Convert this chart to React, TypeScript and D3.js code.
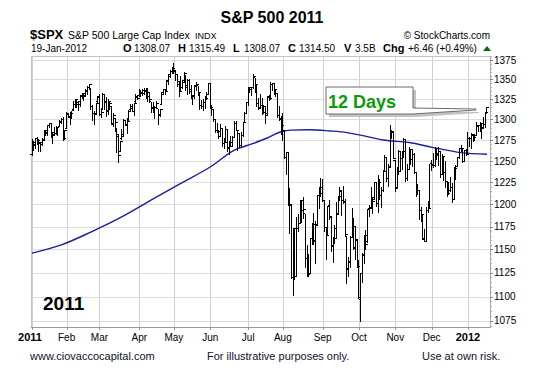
import * as d3 from 'd3';

// daily bars [open, high, low, close]
const jan11 = [
  [1257.6, 1276.2, 1257.6, 1271.9], [1273.0, 1274.1, 1262.7, 1270.2], [1268.8, 1277.6, 1265.4, 1276.6], [1276.3, 1278.2, 1270.4, 1273.9],
  [1274.4, 1276.8, 1261.7, 1271.5], [1270.8, 1271.5, 1262.2, 1269.8], [1272.6, 1277.3, 1269.6, 1274.5], [1275.7, 1286.9, 1275.7, 1286.0],
  [1285.8, 1286.7, 1280.5, 1283.8], [1282.9, 1293.2, 1281.2, 1293.2], [1293.2, 1296.1, 1290.2, 1295.0], [1294.5, 1294.6, 1278.9, 1281.9],
  [1280.9, 1283.4, 1271.3, 1280.3], [1283.6, 1291.2, 1282.1, 1283.4], [1283.3, 1291.9, 1282.5, 1290.8], [1288.2, 1291.3, 1281.1, 1291.2],
  [1292.0, 1299.7, 1292.0, 1296.6], [1297.5, 1301.6, 1295.5, 1299.5], [1299.6, 1302.7, 1275.1, 1276.3], [1276.5, 1287.2, 1276.5, 1286.1],
];
const feb11 = [
  [1289.1, 1308.9, 1289.1, 1307.6], [1305.9, 1307.6, 1302.6, 1304.0], [1302.8, 1308.6, 1294.8, 1307.1], [1307.0, 1311.0, 1301.7, 1310.9],
  [1311.9, 1322.9, 1311.9, 1319.1], [1318.8, 1324.9, 1316.0, 1324.6], [1322.5, 1324.5, 1314.9, 1320.9], [1318.1, 1322.8, 1311.7, 1321.9],
  [1318.7, 1330.8, 1316.1, 1329.2], [1328.7, 1333.0, 1326.9, 1332.3], [1330.4, 1330.4, 1324.6, 1328.0], [1329.5, 1337.6, 1329.5, 1336.3],
  [1334.4, 1341.5, 1331.0, 1340.4], [1340.4, 1344.1, 1338.1, 1343.0], [1338.9, 1338.9, 1312.3, 1315.4], [1315.4, 1317.9, 1299.6, 1307.4],
  [1307.1, 1310.9, 1294.3, 1306.1], [1307.3, 1320.6, 1307.3, 1319.9], [1321.6, 1329.4, 1320.6, 1327.2],
];
const mar11 = [
  [1328.6, 1332.1, 1306.1, 1306.3], [1305.5, 1314.2, 1302.6, 1308.4], [1312.4, 1332.3, 1312.4, 1331.0], [1330.7, 1331.1, 1312.6, 1321.2],
  [1322.7, 1327.7, 1304.0, 1310.1], [1311.1, 1325.7, 1306.9, 1321.8], [1319.9, 1323.2, 1312.3, 1320.0], [1315.7, 1315.7, 1294.2, 1295.1],
  [1293.4, 1308.4, 1292.0, 1304.3], [1301.2, 1301.2, 1286.4, 1296.4], [1288.5, 1288.5, 1261.1, 1281.9], [1279.5, 1280.9, 1249.1, 1256.9],
  [1261.6, 1274.0, 1261.6, 1273.7], [1276.7, 1288.9, 1276.2, 1279.2], [1281.7, 1300.6, 1281.7, 1298.4], [1298.3, 1299.4, 1292.7, 1293.8],
  [1292.2, 1300.5, 1284.1, 1297.5], [1300.6, 1311.3, 1297.7, 1309.7], [1311.8, 1319.2, 1310.2, 1313.8], [1315.5, 1319.7, 1310.2, 1310.2],
  [1309.4, 1319.5, 1305.3, 1319.4], [1321.9, 1331.7, 1321.9, 1328.3], [1327.4, 1329.8, 1325.0, 1325.8],
];
const apr11 = [
  [1329.5, 1337.9, 1328.9, 1332.4], [1333.6, 1336.7, 1329.1, 1332.9], [1332.0, 1338.2, 1330.0, 1332.6], [1335.9, 1339.4, 1331.1, 1335.5],
  [1334.8, 1338.8, 1326.6, 1333.5], [1336.2, 1339.5, 1322.9, 1328.2], [1329.0, 1333.8, 1321.1, 1324.5], [1322.0, 1322.0, 1309.5, 1314.2],
  [1314.0, 1321.4, 1309.2, 1314.4], [1311.1, 1316.8, 1302.4, 1314.5], [1314.5, 1322.9, 1313.7, 1319.7], [1313.4, 1313.4, 1294.7, 1305.1],
  [1306.0, 1312.7, 1304.0, 1312.6], [1319.1, 1332.7, 1319.1, 1330.4], [1333.2, 1337.5, 1332.8, 1337.4], [1337.1, 1337.6, 1331.5, 1335.3],
  [1336.8, 1349.6, 1336.8, 1347.2], [1348.4, 1357.5, 1344.3, 1355.7], [1353.9, 1361.7, 1353.6, 1360.5], [1360.1, 1364.6, 1358.7, 1363.6],
];
const may11 = [
  [1365.2, 1370.6, 1358.6, 1361.2], [1359.8, 1360.8, 1349.5, 1356.6], [1355.9, 1355.9, 1341.5, 1347.3], [1344.2, 1348.0, 1329.2, 1335.1],
  [1340.2, 1354.4, 1335.6, 1340.2], [1340.2, 1349.4, 1338.6, 1346.3], [1348.3, 1359.4, 1348.3, 1357.2], [1354.5, 1354.5, 1336.4, 1342.1],
  [1339.4, 1351.1, 1332.0, 1348.7], [1348.7, 1350.5, 1333.4, 1337.8], [1334.8, 1343.3, 1327.3, 1329.5], [1326.1, 1330.4, 1318.5, 1329.0],
  [1328.5, 1341.8, 1326.6, 1340.7], [1342.4, 1346.8, 1336.4, 1343.6], [1342.0, 1342.0, 1330.7, 1333.3], [1333.1, 1333.1, 1312.9, 1317.4],
  [1317.7, 1323.7, 1313.9, 1316.3], [1316.4, 1325.9, 1311.8, 1320.5], [1320.6, 1328.5, 1314.4, 1325.7], [1325.7, 1334.6, 1325.7, 1331.1],
  [1331.1, 1345.2, 1331.1, 1345.2],
];
const jun11 = [
  [1345.2, 1345.2, 1313.7, 1314.6], [1314.6, 1318.0, 1305.6, 1312.9], [1312.9, 1312.9, 1297.9, 1300.2], [1300.3, 1300.3, 1284.7, 1286.2],
  [1286.3, 1296.2, 1284.7, 1284.9], [1284.6, 1287.0, 1277.4, 1279.6], [1279.6, 1294.5, 1279.6, 1289.0], [1288.6, 1288.6, 1268.3, 1271.0],
  [1271.3, 1277.0, 1265.6, 1271.8], [1272.2, 1292.5, 1272.2, 1287.9], [1287.9, 1287.9, 1261.9, 1265.4], [1265.5, 1274.1, 1258.1, 1267.6],
  [1268.6, 1279.8, 1267.4, 1271.5], [1271.5, 1280.4, 1267.6, 1278.4], [1278.4, 1297.6, 1278.4, 1295.5], [1295.5, 1298.6, 1286.8, 1287.1],
  [1286.6, 1286.6, 1262.9, 1283.5], [1283.0, 1283.9, 1267.2, 1268.5], [1268.4, 1284.9, 1267.5, 1280.1], [1280.2, 1296.8, 1280.2, 1296.7],
  [1296.9, 1309.2, 1296.9, 1307.4], [1307.6, 1322.0, 1307.6, 1320.6],
];
const jul11 = [
  [1320.6, 1341.0, 1318.2, 1339.7], [1339.6, 1340.9, 1334.3, 1337.9], [1337.6, 1340.9, 1330.9, 1339.2], [1339.6, 1356.5, 1339.6, 1353.2],
  [1352.4, 1352.4, 1333.7, 1343.8], [1343.3, 1343.3, 1316.4, 1319.5], [1319.6, 1327.2, 1313.3, 1313.6], [1314.5, 1331.5, 1314.5, 1317.7],
  [1317.7, 1326.9, 1306.5, 1308.9], [1308.9, 1317.7, 1307.4, 1316.1], [1315.9, 1315.9, 1295.9, 1305.4], [1307.1, 1328.1, 1307.1, 1326.7],
  [1328.7, 1330.4, 1323.7, 1325.8], [1325.7, 1347.0, 1325.7, 1343.8], [1343.8, 1346.1, 1337.0, 1345.0], [1344.3, 1344.3, 1331.1, 1337.4],
  [1337.4, 1338.5, 1329.1, 1331.9], [1331.9, 1331.9, 1303.5, 1304.9], [1304.8, 1316.3, 1299.2, 1300.7], [1300.1, 1304.2, 1282.9, 1292.3],
];
const aug11 = [
  [1292.6, 1307.4, 1274.7, 1286.9], [1286.6, 1286.6, 1254.0, 1254.1], [1254.3, 1261.2, 1234.6, 1260.3], [1260.2, 1260.2, 1199.5, 1200.1],
  [1200.3, 1218.1, 1168.1, 1199.4], [1198.5, 1198.5, 1119.3, 1119.5], [1120.2, 1172.9, 1101.5, 1172.5], [1171.8, 1171.8, 1118.0, 1120.8],
  [1121.3, 1186.3, 1121.3, 1172.6], [1172.9, 1189.0, 1170.7, 1178.8], [1178.9, 1204.5, 1178.9, 1204.5], [1204.2, 1204.2, 1180.5, 1192.8],
  [1192.9, 1208.5, 1184.4, 1193.9], [1189.6, 1189.6, 1131.0, 1140.7], [1140.5, 1154.5, 1122.1, 1123.5], [1123.6, 1145.5, 1121.1, 1123.8],
  [1124.4, 1162.4, 1124.4, 1162.4], [1162.2, 1178.6, 1156.3, 1177.6], [1176.7, 1190.7, 1155.5, 1159.3], [1158.9, 1181.2, 1135.9, 1176.8],
  [1177.9, 1210.3, 1177.9, 1210.1], [1209.8, 1220.1, 1195.8, 1212.9], [1213.0, 1230.7, 1209.4, 1218.9],
];
const sep11 = [
  [1219.1, 1229.3, 1203.9, 1204.4], [1203.9, 1203.9, 1170.6, 1174.0], [1174.0, 1174.0, 1140.1, 1165.2], [1165.9, 1198.6, 1165.9, 1198.6],
  [1198.0, 1204.4, 1183.3, 1185.9], [1185.4, 1185.4, 1148.4, 1154.2], [1153.5, 1162.5, 1136.1, 1162.3], [1162.6, 1176.4, 1157.4, 1172.9],
  [1173.3, 1202.4, 1162.7, 1188.7], [1189.4, 1209.1, 1189.4, 1209.1], [1209.2, 1220.1, 1204.5, 1216.0], [1215.0, 1215.0, 1188.4, 1204.1],
  [1204.5, 1220.4, 1201.3, 1202.1], [1203.6, 1206.3, 1166.2, 1166.8], [1164.6, 1164.6, 1114.2, 1129.6], [1128.8, 1141.7, 1121.4, 1136.4],
  [1136.9, 1164.2, 1131.1, 1163.0], [1163.3, 1195.9, 1163.3, 1175.4], [1175.4, 1184.7, 1150.4, 1151.1], [1151.7, 1175.9, 1139.9, 1160.4],
  [1159.9, 1159.9, 1131.3, 1131.4],
];
const oct11 = [
  [1131.2, 1139.0, 1098.9, 1099.2], [1097.4, 1125.1, 1074.8, 1124.0], [1124.0, 1146.1, 1115.7, 1144.0], [1144.1, 1165.6, 1135.0, 1165.0],
  [1165.0, 1171.4, 1150.3, 1155.5], [1158.2, 1194.9, 1158.2, 1194.9], [1194.6, 1199.2, 1187.3, 1195.5], [1196.2, 1220.3, 1196.2, 1207.3],
  [1207.0, 1207.5, 1190.6, 1203.7], [1205.7, 1224.6, 1205.7, 1224.6], [1224.5, 1224.5, 1198.6, 1200.9], [1200.8, 1233.1, 1191.5, 1225.4],
  [1223.5, 1229.6, 1206.3, 1209.9], [1209.9, 1219.4, 1197.3, 1215.4], [1215.4, 1239.0, 1215.4, 1238.3], [1238.7, 1256.6, 1238.7, 1254.2],
  [1254.2, 1254.2, 1226.8, 1229.1], [1229.2, 1246.3, 1221.1, 1242.0], [1244.0, 1292.7, 1244.0, 1284.6], [1284.4, 1287.1, 1277.0, 1285.1],
  [1285.0, 1285.0, 1253.2, 1253.3],
];
const nov11 = [
  [1251.0, 1251.0, 1215.4, 1218.3], [1219.6, 1242.5, 1219.6, 1237.9], [1238.3, 1263.2, 1234.8, 1261.2], [1260.8, 1260.8, 1238.9, 1253.2],
  [1253.2, 1261.7, 1240.8, 1261.1], [1261.1, 1277.6, 1255.0, 1275.9], [1275.2, 1275.2, 1226.6, 1229.1], [1229.6, 1246.2, 1227.7, 1239.7],
  [1240.1, 1267.0, 1240.1, 1263.9], [1263.9, 1263.9, 1246.7, 1251.8], [1251.7, 1264.3, 1244.3, 1257.8], [1257.8, 1259.6, 1235.7, 1236.9],
  [1236.6, 1237.7, 1209.4, 1216.1], [1216.2, 1223.5, 1211.4, 1215.7], [1215.6, 1215.6, 1183.2, 1193.0], [1193.0, 1196.8, 1181.7, 1188.0],
  [1187.5, 1187.5, 1161.8, 1161.8], [1161.4, 1172.7, 1158.7, 1158.7], [1158.7, 1197.4, 1158.7, 1192.6], [1192.6, 1203.7, 1191.8, 1195.2],
  [1196.7, 1247.1, 1196.7, 1247.0],
];
const dec11 = [
  [1246.9, 1251.1, 1239.7, 1244.6], [1246.0, 1260.1, 1243.4, 1244.3], [1244.3, 1266.7, 1244.3, 1257.1], [1257.2, 1266.0, 1253.0, 1258.5],
  [1258.1, 1267.1, 1244.8, 1261.0], [1260.9, 1260.9, 1231.5, 1234.4], [1234.5, 1258.3, 1234.5, 1255.2], [1255.1, 1255.1, 1227.3, 1236.5],
  [1236.8, 1249.9, 1219.4, 1225.7], [1225.7, 1225.7, 1209.5, 1211.8], [1212.1, 1225.6, 1212.1, 1215.8], [1216.1, 1231.0, 1215.2, 1219.7],
  [1219.7, 1224.6, 1202.4, 1205.4], [1205.7, 1242.8, 1205.7, 1241.3], [1241.3, 1245.1, 1229.5, 1243.7], [1243.7, 1255.2, 1243.7, 1254.0],
  [1254.0, 1265.4, 1254.0, 1265.3], [1265.0, 1269.4, 1262.3, 1265.4], [1265.4, 1265.9, 1248.6, 1249.6], [1249.8, 1263.5, 1249.8, 1263.0],
  [1262.8, 1264.1, 1257.5, 1257.6],
];
const jan12 = [
  [1258.9, 1284.6, 1258.9, 1277.1], [1277.0, 1278.7, 1268.1, 1277.3], [1277.3, 1283.1, 1265.3, 1281.1], [1280.9, 1281.8, 1273.3, 1277.8],
  [1277.8, 1282.0, 1274.6, 1280.7], [1280.8, 1296.5, 1280.8, 1292.1], [1292.0, 1293.8, 1285.4, 1292.5], [1292.5, 1296.8, 1285.8, 1295.5],
  [1294.8, 1294.8, 1277.6, 1289.1], [1290.2, 1303.0, 1290.2, 1293.7], [1293.7, 1308.1, 1291.0, 1308.0], [1308.1, 1315.5, 1308.1, 1314.5],
];

const months = [jan11, feb11, mar11, apr11, may11, jun11, jul11, aug11, sep11, oct11, nov11, dec11, jan12];
const monthLabels = ['2011', 'Feb', 'Mar', 'Apr', 'May', 'Jun', 'Jul', 'Aug', 'Sep', 'Oct', 'Nov', 'Dec', '2012'];
const priceTicks = [1075, 1100, 1125, 1150, 1175, 1200, 1225, 1250, 1275, 1300, 1325, 1350, 1375];

// 200-day moving average (trading day index, value)
const maDays = [0, 17, 34, 51, 69, 86, 103, 117, 128, 136, 144, 150, 160, 172, 182, 192, 203, 218, 232, 248, 263];
const maValues = [1146, 1155, 1169, 1185, 1205, 1224, 1243, 1263, 1271, 1277.5, 1285, 1287, 1287.5, 1286, 1284, 1280, 1275, 1272, 1266, 1260, 1258];

const headerStats = [
  { k: 'O', v: '1308.07', x: 123 },
  { k: 'H', v: '1315.49', x: 178 },
  { k: 'L', v: '1308.07', x: 233 },
  { k: 'C', v: '1314.50', x: 288 },
  { k: 'V', v: '3.5B', x: 344 },
];

const FONT = "'Liberation Sans', Arial, Helvetica, sans-serif";

export default function App() {
  const width = 557;
  const height = 370;
  const plot = { left: 31, top: 56, right: 490, bottom: 327 };

  const bars = months.flat().map((d, i) => ({ i, o: d[0], h: d[1], l: d[2], c: d[3] }));
  const monthStarts: number[] = [];
  let acc = 0;
  months.forEach(m => { monthStarts.push(acc); acc += m.length; });

  const x = d3.scaleLinear().domain([0, 264]).range([32, 32 + 264 * 1.73]);
  const y = d3.scaleLog().domain([1068.9, 1380.2]).range([plot.bottom, plot.top]);

  const maLine = d3.line<number>()
    .x((_, i) => x(maDays[i]))
    .y(d => y(d))
    .curve(d3.curveMonotoneX);

  const minorTicks = d3.range(1070, 1381, 5);

  const calloutPath = 'M326,87 H413 V108 L476,109 L476,110 L413,114 H326 Z';

  return (
    <svg width={width} height={height} style={{ position: 'fixed', left: 0, top: 0, background: '#fff' }} fontFamily={FONT}>
      <rect x={0} y={0} width={width} height={height} fill="#fff" />

      {/* header */}
      <text x={272} y={23} textAnchor="middle" fontSize={16} fontWeight="bold">S&amp;P 500 2011</text>
      <text x={30} y={39} fontSize={13} fontWeight="bold">$SPX</text>
      <text x={68} y={39} fontSize={10.5}>S&amp;P 500 Large Cap Index</text>
      <text x={195} y={39} fontSize={9}>INDX</text>
      <text x={490} y={39} textAnchor="end" fontSize={10}>© StockCharts.com</text>

      <text x={31} y={52} fontSize={10}>19-Jan-2012</text>
      {headerStats.map(s => (
        <g key={s.k}>
          <text x={s.x} y={52} fontSize={11} fontWeight="bold">{s.k}</text>
          <text x={s.x + 11} y={52} fontSize={10}>{s.v}</text>
        </g>
      ))}
      <text x={383} y={52} fontSize={11} fontWeight="bold">Chg</text>
      <text x={408} y={52} fontSize={10}>+6.46 (+0.49%)</text>
      <path d="M483,51 L491,51 L487,46 Z" fill="#0a6a0a" />

      {/* grid */}
      {priceTicks.map(t => (
        <line key={'h' + t} x1={plot.left} x2={plot.right} y1={Math.round(y(t)) + 0.5} y2={Math.round(y(t)) + 0.5} stroke="#dcdcdc" />
      ))}
      {monthStarts.map(s => (
        <line key={'v' + s} x1={Math.round(x(s)) + 0.5} x2={Math.round(x(s)) + 0.5} y1={plot.top} y2={plot.bottom} stroke="#d0d0d0" />
      ))}

      {/* frame */}
      <rect x={plot.left + 0.5} y={plot.top + 0.5} width={plot.right - plot.left} height={plot.bottom - plot.top} fill="none" stroke="#c4c4c4" />
      <line x1={plot.left} x2={plot.right + 1} y1={plot.bottom + 0.5} y2={plot.bottom + 0.5} stroke="#9a9a9a" />
      <line x1={plot.right + 0.5} x2={plot.right + 0.5} y1={plot.top} y2={plot.bottom + 1} stroke="#a8a8a8" />

      {/* right axis */}
      {minorTicks.map(t => (
        <line key={'m' + t} x1={plot.right} x2={plot.right + 2} y1={Math.round(y(t)) + 0.5} y2={Math.round(y(t)) + 0.5} stroke="#b0b0b0" />
      ))}
      {priceTicks.map(t => (
        <g key={'t' + t}>
          <line x1={plot.right} x2={plot.right + 3} y1={Math.round(y(t)) + 0.5} y2={Math.round(y(t)) + 0.5} stroke="#888" />
          <text x={494} y={y(t) + 3.5} fontSize={10}>{t}</text>
        </g>
      ))}

      {/* bottom axis */}
      {monthStarts.map((s, i) => {
        const bold = i === 0 || i === 12;
        return (
          <g key={'l' + s}>
            <line x1={Math.round(x(s)) + 0.5} x2={Math.round(x(s)) + 0.5} y1={plot.bottom} y2={plot.bottom + 3} stroke="#999" />
            <text x={i === 0 ? 30 : x(s)} y={341} textAnchor="middle" fontSize={bold ? 11 : 10} fontWeight={bold ? 'bold' : 'normal'}>{monthLabels[i]}</text>
          </g>
        );
      })}

      {/* moving average */}
      <path d={maLine(maValues) || ''} fill="none" stroke="#1c1ca0" strokeWidth={1.4} />

      {/* price bars */}
      <g stroke="#000" strokeWidth={1} shapeRendering="crispEdges">
        {bars.map(b => {
          const cx = x(b.i);
          return (
            <g key={b.i}>
              <line x1={cx} x2={cx} y1={y(b.h)} y2={y(b.l) + 1} />
              <line x1={cx - 2} x2={cx} y1={y(b.o)} y2={y(b.o)} />
              <line x1={cx} x2={cx + 2.5} y1={y(b.c)} y2={y(b.c)} />
            </g>
          );
        })}
      </g>

      {/* callout */}
      <path d={calloutPath} transform="translate(3,3)" fill="#c2c2c2" />
      <path d={calloutPath} fill="#fff" stroke="#6a6a6a" strokeWidth={1} />
      <text x={328} y={108} fontSize={18} fontWeight="bold" fill="#0a9a0a">12 Days</text>

      <text x={43} y={310} fontSize={19} fontWeight="bold">2011</text>

      {/* footer */}
      <text x={30} y={360} fontSize={11} fill="#101030">www.ciovaccocapital.com</text>
      <text x={207} y={360} fontSize={11} fill="#101030">For illustrative purposes only.</text>
      <text x={422} y={360} fontSize={11} fill="#101030">Use at own risk.</text>
    </svg>
  );
}
